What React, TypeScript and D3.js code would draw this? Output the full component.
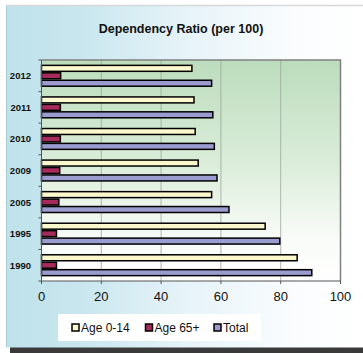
import * as d3 from 'd3';

const years = ['2012', '2011', '2010', '2009', '2005', '1995', '1990'];
const seriesNames = ['Age 0-14', 'Age 65+', 'Total'];
const age014 = [50.3, 51.0, 51.4, 52.4, 56.9, 74.8, 85.5];
const age65 = [6.4, 6.3, 6.3, 6.1, 5.8, 5.0, 5.0];
const total = [56.9, 57.3, 57.8, 58.7, 62.7, 79.7, 90.4];
const xTicks = [0, 20, 40, 60, 80, 100];
const colors = ['#fbf8cd', '#a62a5c', '#9b9bd0'];

const W = 363;
const H = 353;
const plot = { left: 41.5, right: 340.5, top: 60, bottom: 281 };
const FONT = 'Liberation Sans, Arial, sans-serif';

export default function App() {
  const x = d3.scaleLinear().domain([0, 100]).range([plot.left, plot.right]);
  const y = d3.scaleBand<string>().domain(years).range([plot.top, plot.bottom]);
  const inner = d3.scaleBand<string>().domain(seriesNames)
    .range([0, y.bandwidth()]).paddingInner(0.2).paddingOuter(0.72);
  const values = [age014, age65, total];

  const legendX = [72, 145.5, 214];

  return (
    <svg width={W} height={H} style={{ position: 'absolute', left: 0, top: 0 }} fontFamily={FONT}>
      <defs>
        <linearGradient id="bg" x1="0" x2="1" y1="0" y2="0">
          <stop offset="0" stopColor="#bfe2ea" />
          <stop offset="0.2" stopColor="#c8e6ee" />
          <stop offset="0.5" stopColor="#e6f3f8" />
          <stop offset="0.8" stopColor="#fafcfe" />
          <stop offset="1" stopColor="#ffffff" />
        </linearGradient>
        <linearGradient id="plotbg" x1="0" x2="0" y1="0" y2="1">
          <stop offset="0" stopColor="#bcdcbd" />
          <stop offset="0.45" stopColor="#d9ecd8" />
          <stop offset="0.8" stopColor="#f8fbf7" />
          <stop offset="1" stopColor="#ffffff" />
        </linearGradient>
      </defs>
      <rect x={0} y={0} width={W} height={H} fill="#ffffff" />
      <rect x={10} y={347} width={W - 10} height={6} fill="#3a3a3a" />
      <rect x={6} y={5.5} width={W - 6} height={342} fill="url(#bg)" />
      <line x1={6} x2={W} y1={5.5} y2={5.5} stroke="#d8d8d8" strokeWidth={1.5} />
      <line x1={6.5} x2={6.5} y1={5.5} y2={347} stroke="#a8cdd6" strokeWidth={1} />

      <text x={181} y={33} textAnchor="middle" fontSize={12.5} fontWeight="bold" fill="#111">
        Dependency Ratio (per 100)
      </text>

      <rect x={plot.left} y={plot.top} width={plot.right - plot.left} height={plot.bottom - plot.top}
        fill="url(#plotbg)" />
      {xTicks.slice(1, -1).map(t => (
        <line key={t} x1={x(t)} x2={x(t)} y1={plot.top} y2={plot.bottom} stroke="#9aa89a" strokeWidth={0.8} />
      ))}
      <polyline points={`${plot.left},${plot.top} ${plot.right},${plot.top} ${plot.right},${plot.bottom}`}
        fill="none" stroke="#808080" strokeWidth={1.5} />

      {years.map((yr, i) => (
        <g key={yr}>
          {seriesNames.map((s, j) => (
            <rect key={s}
              x={x(0)}
              y={(y(yr) ?? 0) + (inner(s) ?? 0)}
              width={x(values[j][i]) - x(0)}
              height={inner.bandwidth()}
              fill={colors[j]} stroke="#000" strokeWidth={1.5} />
          ))}
          <text x={31} y={(y(yr) ?? 0) + y.bandwidth() / 2 + 3.5} textAnchor="end" fontSize={9.5}
            fontWeight="bold" fill="#111">{yr}</text>
        </g>
      ))}

      {/* axes */}
      <line x1={plot.left} x2={plot.left} y1={plot.top} y2={plot.bottom + 1} stroke="#555" strokeWidth={1} />
      {years.concat(['end']).map((_, i) => (
        <line key={i} x1={plot.left - 3} x2={plot.left} y1={plot.top + i * y.step()} y2={plot.top + i * y.step()}
          stroke="#555" strokeWidth={1} />
      ))}
      <line x1={plot.left} x2={plot.right} y1={plot.bottom} y2={plot.bottom} stroke="#555" strokeWidth={1} />
      {xTicks.map(t => (
        <g key={t}>
          <line x1={x(t)} x2={x(t)} y1={plot.bottom} y2={plot.bottom + 3} stroke="#555" strokeWidth={1} />
          <text x={x(t)} y={plot.bottom + 20} textAnchor="middle" fontSize={13} fill="#111">{t}</text>
        </g>
      ))}

      {/* legend */}
      <rect x={58} y={314} width={203} height={27} fill="#ffffff" />
      {seriesNames.map((s, j) => (
        <g key={s}>
          <rect x={legendX[j]} y={324} width={7} height={7} fill={colors[j]} stroke="#000" strokeWidth={1.5} />
          <text x={legendX[j] + 9} y={332} fontSize={12} fill="#111">{s}</text>
        </g>
      ))}
    </svg>
  );
}
